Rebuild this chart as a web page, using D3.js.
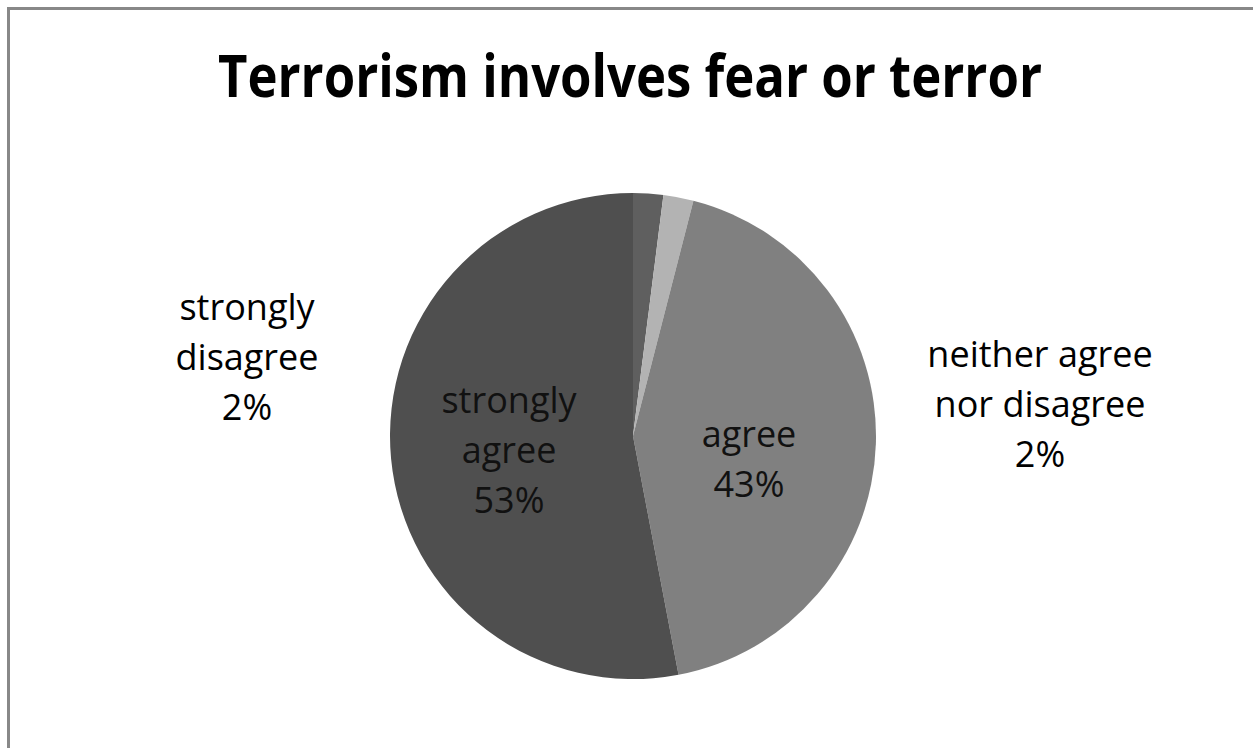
<!DOCTYPE html>
<html>
<head>
<meta charset="utf-8">
<script src="https://cdn.jsdelivr.net/npm/d3@7"></script>
<style>
  html, body { margin: 0; padding: 0; background: #fff; overflow: hidden; }
  svg { display: block; }
</style>
</head>
<body>
<script>
// Survey answers, in drawing order clockwise from 12 o'clock
const categories = ["strongly disagree", "neither agree nor disagree", "agree", "strongly agree"];
const percentages = [2, 2, 43, 53];
const labelLines = [
  ["strongly", "disagree"],
  ["neither agree", "nor disagree"],
  ["agree"],
  ["strongly", "agree"]
];
const sliceColors = ["#5f5f5f", "#b3b3b3", "#808080", "#4f4f4f"];
const title = "Terrorism involves fear or terror";

const W = 1253, H = 748;
const cx = 633, cy = 436, R = 243;

// label anchor: centre x and first baseline, relative to pie centre
const labelAnchor = [
  { dx: -386, dy: -116 },
  { dx: 407, dy: -69 },
  { dx: 116, dy: 11 },
  { dx: -124, dy: -23 }
];
const lineGap = 50;

const svg = d3.select("body").append("svg")
  .attr("width", W).attr("height", H);

svg.append("rect")
  .attr("width", W).attr("height", H).attr("fill", "#fff");

// chart frame: only the top and left sides fall inside the view
svg.append("path")
  .attr("d", `M8.5,${H}V8.5H${W}`)
  .attr("fill", "none")
  .attr("stroke", "#888")
  .attr("stroke-width", 3);

svg.append("text")
  .attr("x", 630).attr("y", 97)
  .attr("text-anchor", "middle")
  .attr("font-family", "'Open Sans', sans-serif")
  .attr("font-weight", 700)
  .attr("font-size", 59)
  .attr("textLength", 824)
  .attr("lengthAdjust", "spacingAndGlyphs")
  .attr("fill", "#000")
  .text(title);

const data = categories.map((c, i) => ({ name: c, value: percentages[i], i }));

const pie = d3.pie().sort(null).value(d => d.value);
const arc = d3.arc().innerRadius(0).outerRadius(R);
const color = d3.scaleOrdinal().domain(categories).range(sliceColors);

const g = svg.append("g").attr("transform", `translate(${cx},${cy})`);

g.selectAll("path")
  .data(pie(data))
  .join("path")
  .attr("d", arc)
  .attr("fill", d => color(d.data.name));

const labels = g.selectAll("text.lbl")
  .data(data)
  .join("text")
  .attr("class", "lbl")
  .attr("text-anchor", "middle")
  .attr("font-family", "'Open Sans', sans-serif")
  .attr("font-size", 36)
  .attr("fill", d => (d.i >= 2 ? "#111" : "#000"));

labels.each(function (d) {
  const t = d3.select(this);
  const a = labelAnchor[d.i];
  const lines = labelLines[d.i].concat([d.value + "%"]);
  lines.forEach((ln, k) => {
    t.append("tspan")
      .attr("x", a.dx)
      .attr("y", a.dy + k * lineGap)
      .text(ln);
  });
});
</script>
</body>
</html>
